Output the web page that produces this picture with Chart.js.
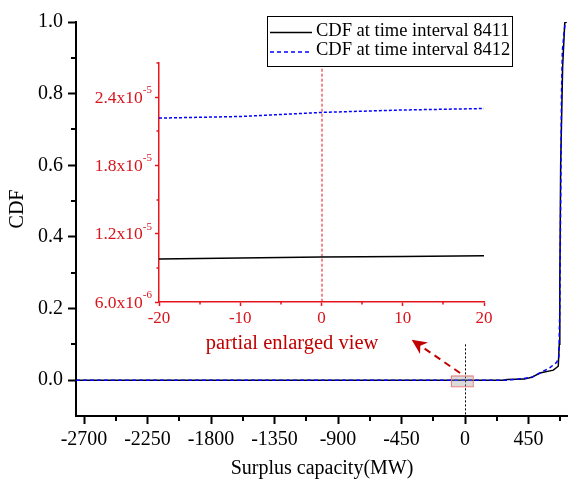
<!DOCTYPE html>
<html>
<head>
<meta charset="utf-8">
<script src="https://cdn.jsdelivr.net/npm/chart.js@4.4.1/dist/chart.umd.min.js"></script>
<style>
  html, body { margin: 0; padding: 0; background: #fff; }
  #wrap { position: relative; width: 568px; height: 479px; }
  #main { position: absolute; left: 0; top: 0; }
  #inset { position: absolute; left: 80px; top: 55px; }
</style>
</head>
<body>
<div id="wrap">
  <canvas id="main" width="568" height="479"></canvas>
  <canvas id="inset" width="420" height="280"></canvas>
</div>
<script>
/* ---------- DATA ---------- */
// surplus capacity (MW) and CDF for the two time intervals
const mw8411  = [-2757, 0, 270, 300, 420, 473, 531, 626, 661, 668, 672, 678, 692, 707, 721];
const cdf8411 = [0, 0, 0, 0.002, 0.003, 0.008, 0.02, 0.028, 0.039, 0.1, 0.27, 0.6, 0.875, 0.998, 1.0];
const mw8412  = [-2757, 0, 290, 400, 473, 531, 602, 650, 665, 672, 678, 684, 690, 709, 721];
const cdf8412 = [0, 0, 0, 0.004, 0.008, 0.02, 0.035, 0.05, 0.065, 0.2, 0.5, 0.8, 0.92, 0.997, 1.0];

// close-up around 0 MW
const zoomMW      = [-20, -10, 0, 10, 20];
const zoomCdf8411 = [9.78e-6, 9.86e-6, 9.95e-6, 1.0e-5, 1.007e-5];
const zoomCdf8412 = [2.216e-5, 2.23e-5, 2.266e-5, 2.287e-5, 2.30e-5];

const seriesNames = ['CDF at time interval 8411', 'CDF at time interval 8412'];

/* ---------- TICKS ---------- */
const xMajor = [-2700, -2250, -1800, -1350, -900, -450, 0, 450];
const xMinor = [-2475, -2025, -1575, -1125, -675, -225, 225, 675];
const yMajor = [0, 0.2, 0.4, 0.6, 0.8, 1.0];
const yMinor = [0.1, 0.3, 0.5, 0.7, 0.9];

const zoomXMajor = [-20, -10, 0, 10, 20];
const zoomXMinor = [-15, -5, 5, 15];
const zoomYMajor = [6e-6, 1.2e-5, 1.8e-5, 2.4e-5];
const zoomYMinor = [9e-6, 1.5e-5, 2.1e-5, 2.7e-5];
const zoomYLabels = [['6.0x10', '-6'], ['1.2x10', '-5'], ['1.8x10', '-5'], ['2.4x10', '-5']];

/* ---------- STYLE ---------- */
const SERIF = '"Liberation Serif", "Times New Roman", serif';
const RED = '#e8141c';
const RED_TEXT = '#d8141c';
const DARK_RED = '#c00000';

Chart.defaults.font.family = SERIF;
Chart.defaults.color = '#000';

// short minor tick marks, outside the left / bottom axis lines
function minorTicks(chart, axis, values, len, color, width) {
  const ctx = chart.ctx;
  const area = chart.chartArea;
  const scale = chart.scales[axis];
  ctx.save();
  ctx.fillStyle = color;
  values.forEach(v => {
    const p = Math.round(scale.getPixelForValue(v));
    if (axis === 'x') {
      ctx.fillRect(p - width / 2, area.bottom, width, len);
    } else {
      ctx.fillRect(area.left - len, p - width / 2, len, width);
    }
  });
  ctx.restore();
}

/* ---------- MAIN CHART EXTRAS ---------- */
const boxMW = [-100, 55];
const boxCdf = [-0.017, 0.013];
const arrowFrom = [-35, 0.02];
const arrowTo = [-378, 0.113];
const notePos = [-1226, 0.087];

const mainDecor = {
  id: 'mainDecor',
  afterDatasetsDraw(chart) {
    const { ctx, scales: { x, y } } = chart;
    ctx.save();

    // dotted marker at 0 MW
    ctx.strokeStyle = '#000';
    ctx.lineWidth = 1;
    ctx.setLineDash([2, 2]);
    ctx.beginPath();
    ctx.moveTo(x.getPixelForValue(0) + 0.5, y.getPixelForValue(0.1));
    ctx.lineTo(x.getPixelForValue(0) + 0.5, y.getPixelForValue(-0.1));
    ctx.stroke();
    ctx.setLineDash([]);

    // zoom box
    const bx0 = x.getPixelForValue(boxMW[0]), bx1 = x.getPixelForValue(boxMW[1]);
    const by0 = y.getPixelForValue(boxCdf[1]), by1 = y.getPixelForValue(boxCdf[0]);
    ctx.fillStyle = 'rgba(150,150,150,0.35)';
    ctx.fillRect(bx0, by0, bx1 - bx0, by1 - by0);
    ctx.strokeStyle = 'rgba(235,110,110,0.9)';
    ctx.lineWidth = 1;
    ctx.strokeRect(bx0 + 0.5, by0 + 0.5, bx1 - bx0, by1 - by0);

    // dashed arrow to the note
    const p0 = { x: x.getPixelForValue(arrowFrom[0]), y: y.getPixelForValue(arrowFrom[1]) };
    const p1 = { x: x.getPixelForValue(arrowTo[0]), y: y.getPixelForValue(arrowTo[1]) };
    const ang = Math.atan2(p1.y - p0.y, p1.x - p0.x);
    const head = 15, half = 7;
    const c = Math.cos(ang), s = Math.sin(ang);
    const bx = p1.x - head * c, by = p1.y - head * s;
    ctx.strokeStyle = DARK_RED;
    ctx.fillStyle = DARK_RED;
    ctx.lineWidth = 2;
    ctx.setLineDash([7, 5]);
    ctx.beginPath();
    ctx.moveTo(p0.x, p0.y);
    ctx.lineTo(bx + 4 * c, by + 4 * s);
    ctx.stroke();
    ctx.setLineDash([]);
    ctx.beginPath();
    ctx.moveTo(p1.x, p1.y);
    ctx.lineTo(bx - half * s, by + half * c);
    ctx.lineTo(p1.x - head * 0.7 * c, p1.y - head * 0.7 * s);
    ctx.lineTo(bx + half * s, by - half * c);
    ctx.closePath();
    ctx.fill();

    ctx.font = '20.5px ' + SERIF;
    ctx.textAlign = 'center';
    ctx.textBaseline = 'alphabetic';
    ctx.fillText('partial enlarged view', x.getPixelForValue(notePos[0]), y.getPixelForValue(notePos[1]));
    ctx.restore();
  },
  afterDraw(chart) {
    const ctx = chart.ctx;
    minorTicks(chart, 'x', xMinor, 5, '#000', 2);
    minorTicks(chart, 'y', yMinor, 5, '#000', 2);

    // y axis title
    ctx.save();
    ctx.translate(18, 209);
    ctx.rotate(-Math.PI / 2);
    ctx.fillStyle = '#000';
    ctx.font = '20px ' + SERIF;
    ctx.textAlign = 'center';
    ctx.textBaseline = 'middle';
    ctx.fillText('CDF', 0, 0);
    ctx.restore();

    // legend box
    ctx.save();
    ctx.fillStyle = '#fff';
    ctx.fillRect(267, 16, 245, 50);
    ctx.strokeStyle = '#000';
    ctx.lineWidth = 1;
    ctx.strokeRect(267.5, 16.5, 245, 50);
    const rows = [32.5, 52];
    chart.data.datasets.forEach((ds, i) => {
      const ly = rows[i];
      ctx.strokeStyle = ds.borderColor;
      ctx.lineWidth = ds.borderWidth;
      ctx.setLineDash(ds.borderDash || []);
      ctx.beginPath();
      ctx.moveTo(270, ly);
      ctx.lineTo(312, ly);
      ctx.stroke();
      ctx.setLineDash([]);
      ctx.fillStyle = '#000';
      ctx.font = '18.5px ' + SERIF;
      ctx.textAlign = 'left';
      ctx.textBaseline = 'middle';
      ctx.fillText(ds.label, 316, ly - 1.5);
    });
    ctx.restore();
  }
};

// axis line + outward major ticks drawn by the scale itself
const axisGrid = (color, len, w) => ({
  display: true, drawOnChartArea: false, drawTicks: true,
  tickLength: len, tickColor: color, tickWidth: w
});

new Chart(document.getElementById('main'), {
  type: 'line',
  data: {
    datasets: [
      {
        label: seriesNames[0],
        data: mw8411.map((v, i) => ({ x: v, y: cdf8411[i] })),
        borderColor: '#000',
        borderWidth: 1.5,
        pointRadius: 0,
        tension: 0,
        order: 1
      },
      {
        label: seriesNames[1],
        data: mw8412.map((v, i) => ({ x: v, y: cdf8412[i] })),
        borderColor: '#0000ff',
        borderWidth: 1.5,
        borderDash: [4, 3],
        pointRadius: 0,
        tension: 0,
        order: 0
      }
    ]
  },
  options: {
    responsive: false,
    animation: false,
    devicePixelRatio: 1,
    events: [],
    layout: { padding: { top: 22, right: 0, bottom: 0, left: 0 } },
    plugins: { legend: { display: false }, tooltip: { enabled: false } },
    scales: {
      x: {
        type: 'linear',
        min: -2757,
        max: 730,
        afterBuildTicks: s => { s.ticks = xMajor.map(v => ({ value: v })); },
        afterFit: s => { s.height = 63; },
        grid: axisGrid('#000', 8, 2),
        border: { display: true, color: '#000', width: 2 },
        ticks: {
          autoSkip: false, maxRotation: 0, padding: 4,
          font: { size: 20 }, color: '#000',
          callback: v => String(v)
        },
        title: {
          display: true, text: 'Surplus capacity(MW)', color: '#000',
          font: { size: 20, lineHeight: 1 }, padding: { top: 0, bottom: 0 }
        }
      },
      y: {
        type: 'linear',
        min: -0.1,
        max: 1.0,
        afterBuildTicks: s => { s.ticks = yMajor.map(v => ({ value: v })); },
        afterFit: s => { s.width = 76; },
        grid: axisGrid('#000', 8, 2),
        border: { display: true, color: '#000', width: 2 },
        ticks: {
          autoSkip: false, padding: 5,
          font: { size: 20 }, color: '#000',
          callback: v => v.toFixed(1)
        }
      }
    }
  },
  plugins: [mainDecor]
});

/* ---------- CLOSE-UP ---------- */
const insetDecor = {
  id: 'insetDecor',
  beforeDatasetsDraw(chart) {
    const { ctx, scales: { x, y } } = chart;
    ctx.save();
    ctx.strokeStyle = RED;
    ctx.lineWidth = 1;
    ctx.setLineDash([3, 2]);
    ctx.beginPath();
    ctx.moveTo(x.getPixelForValue(0) + 0.5, y.getPixelForValue(2.65e-5));
    ctx.lineTo(x.getPixelForValue(0) + 0.5, y.getPixelForValue(6e-6));
    ctx.stroke();
    ctx.restore();
  },
  afterDraw(chart) {
    const { ctx, scales: { y } } = chart;
    minorTicks(chart, 'x', zoomXMinor, 2.5, RED, 1.5);
    minorTicks(chart, 'y', zoomYMinor, 2.5, RED, 1.5);

    // y labels with raised exponent
    ctx.save();
    ctx.fillStyle = RED_TEXT;
    ctx.textBaseline = 'middle';
    const right = chart.chartArea.left - 7;
    zoomYLabels.forEach((lab, i) => {
      const py = y.getPixelForValue(zoomYMajor[i]);
      ctx.font = '11px ' + SERIF;
      const ew = ctx.measureText(lab[1]).width;
      ctx.textAlign = 'left';
      ctx.fillText(lab[1], right - ew, py - 7);
      ctx.font = '17.5px ' + SERIF;
      ctx.textAlign = 'right';
      ctx.fillText(lab[0], right - ew, py + 1);
    });
    ctx.restore();
  }
};

new Chart(document.getElementById('inset'), {
  type: 'line',
  data: {
    datasets: [
      {
        label: seriesNames[0],
        data: zoomMW.map((v, i) => ({ x: v, y: zoomCdf8411[i] })),
        borderColor: '#000',
        borderWidth: 1.5,
        pointRadius: 0,
        tension: 0
      },
      {
        label: seriesNames[1],
        data: zoomMW.map((v, i) => ({ x: v, y: zoomCdf8412[i] })),
        borderColor: '#0000ff',
        borderWidth: 1.5,
        borderDash: [3, 2],
        pointRadius: 0,
        tension: 0
      }
    ]
  },
  options: {
    responsive: false,
    animation: false,
    devicePixelRatio: 1,
    events: [],
    layout: { padding: { top: 8, right: 16, bottom: 0, left: 0 } },
    plugins: { legend: { display: false }, tooltip: { enabled: false } },
    scales: {
      x: {
        type: 'linear',
        min: -20,
        max: 20,
        afterBuildTicks: s => { s.ticks = zoomXMajor.map(v => ({ value: v })); },
        afterFit: s => { s.height = 33; },
        grid: axisGrid(RED, 4, 1.5),
        border: { display: true, color: RED, width: 1.5 },
        ticks: {
          autoSkip: false, maxRotation: 0, padding: 2,
          font: { size: 17 }, color: RED_TEXT,
          callback: v => String(v)
        }
      },
      y: {
        type: 'linear',
        min: 6e-6,
        max: 2.7e-5,
        afterBuildTicks: s => { s.ticks = zoomYMajor.map(v => ({ value: v })); },
        afterFit: s => { s.width = 79; },
        grid: axisGrid(RED, 4, 1.5),
        border: { display: true, color: RED, width: 1.5 },
        ticks: { display: false }
      }
    }
  },
  plugins: [insetDecor]
});
</script>
</body>
</html>
